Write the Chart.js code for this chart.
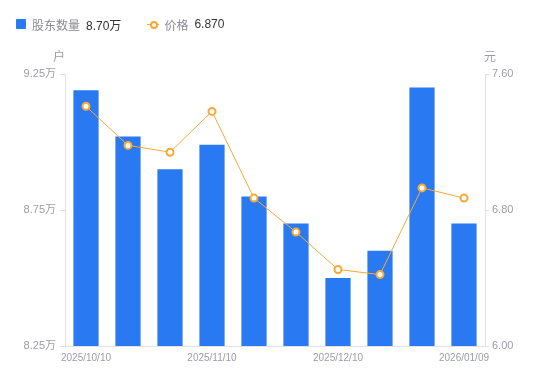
<!DOCTYPE html>
<html>
<head>
<meta charset="utf-8">
<script src="https://cdn.jsdelivr.net/npm/chart.js@4.4.0/dist/chart.umd.min.js"></script>
<style>
  html, body { margin: 0; padding: 0; background: #fff; }
  #wrap { position: relative; width: 550px; height: 381px; }
  #legenda {
    position: absolute; left: 16px; top: 16px; height: 16px;
    font-family: 'Liberation Sans', 'Noto Sans CJK SC', sans-serif; font-size: 12px;
    display: flex; align-items: center; color: #8a8a94;
  }
  #legenda .item { display: flex; align-items: center; margin-right: 26px; }
  #legenda .quadrado { width: 10px; height: 10px; background: #2979f2; border-radius: 1px; margin-right: 6px; }
  #legenda .marcador { position: relative; width: 12px; height: 10px; margin-right: 5px; }
  #legenda .marcador::before { content: ''; position: absolute; left: 0; right: 0; top: 4.5px; height: 1px; background: #f6a935; }
  #legenda .marcador::after { content: ''; position: absolute; left: 2.5px; top: 1.5px; width: 4px; height: 4px; border: 2px solid #f6a935; border-radius: 50%; background: #fff; }
  #legenda .valor { color: #333; margin-left: 6px; }
  canvas { position: absolute; left: 0; top: 0; }
</style>
</head>
<body>
<div id="wrap">
  <canvas id="grafico" width="550" height="381"></canvas>
  <div id="legenda">
    <div class="item"><span class="quadrado"></span>股东数量<span class="valor">8.70万</span></div>
    <div class="item"><span class="marcador"></span>价格<span class="valor">6.870</span></div>
  </div>
</div>
<script>
// datas (só algumas aparecem no eixo)
const datas = ['2025/10/10', '2025/10/20', '2025/10/31', '2025/11/10', '2025/11/20', '2025/11/28',
  '2025/12/10', '2025/12/19', '2025/12/31', '2026/01/09'];
// número de acionistas (万户)
const acionistas = [9.19, 9.02, 8.90, 8.99, 8.80, 8.70, 8.50, 8.60, 9.20, 8.70];
// preço (元)
const precos = [7.41, 7.18, 7.14, 7.38, 6.87, 6.67, 6.45, 6.42, 6.93, 6.87];

const fonte = "'Liberation Sans', 'Noto Sans CJK SC', sans-serif";
const corTexto = '#9c9ca8';
const corEixo = '#e2e2e6';

// títulos das unidades em cima dos eixos
const titulosEixos = {
  id: 'titulosEixos',
  afterDraw(chart) {
    const ctx = chart.ctx;
    const area = chart.chartArea;
    ctx.save();
    ctx.font = '12px ' + fonte;
    ctx.fillStyle = corTexto;
    ctx.textAlign = 'center';
    ctx.textBaseline = 'middle';
    ctx.fillText('户', area.left - 6, area.top - 16);
    ctx.fillText('元', area.right + 5, area.top - 16);
    ctx.restore();
  }
};

const grafico = new Chart(document.getElementById('grafico').getContext('2d'), {
  data: {
    labels: datas,
    datasets: [
      {
        type: 'line',
        label: '价格',
        data: precos,
        yAxisID: 'y1',
        borderColor: '#f6a935',
        borderWidth: 1,
        pointRadius: 3.5,
        pointBorderWidth: 2,
        pointBackgroundColor: '#fff',
        pointBorderColor: '#f6a935',
        tension: 0,
        order: 0,
      },
      {
        type: 'bar',
        label: '股东数量',
        data: acionistas,
        yAxisID: 'y',
        backgroundColor: '#2979f2',
        barPercentage: 0.6,
        categoryPercentage: 1,
        order: 1,
      },
    ],
  },
  options: {
    responsive: false,
    animation: false,
    layout: { padding: { top: 74, left: 0, right: 0, bottom: 0 } },
    plugins: { legend: { display: false }, tooltip: { enabled: false } },
    scales: {
      x: {
        grid: { display: false, drawTicks: false },
        border: { display: true, color: corEixo },
        ticks: {
          autoSkip: false, maxRotation: 0, padding: 6,
          color: corTexto, font: { family: fonte, size: 10 },
          callback: (v, i) => (i % 3 === 0 ? datas[i] : ''),
        },
        afterFit: (s) => { s.height = 35; },
      },
      y: {
        position: 'left',
        min: 8.25, max: 9.25,
        grid: { drawOnChartArea: false, drawTicks: true, tickLength: 5, color: corEixo },
        border: { display: true, color: corEixo },
        ticks: {
          stepSize: 0.5, padding: 4,
          color: corTexto, font: { family: fonte, size: 11 },
          callback: (v) => v.toFixed(2) + '万',
        },
        afterFit: (s) => { s.width = 65; },
      },
      y1: {
        position: 'right',
        min: 6.0, max: 7.6,
        grid: { drawOnChartArea: false, drawTicks: true, tickLength: 4, color: corEixo },
        border: { display: true, color: corEixo },
        ticks: {
          stepSize: 0.8, padding: 3,
          color: corTexto, font: { family: fonte, size: 11 },
          callback: (v) => v.toFixed(2),
        },
        afterFit: (s) => { s.width = 65; },
      },
    },
  },
  plugins: [titulosEixos],
});
</script>
</body>
</html>
